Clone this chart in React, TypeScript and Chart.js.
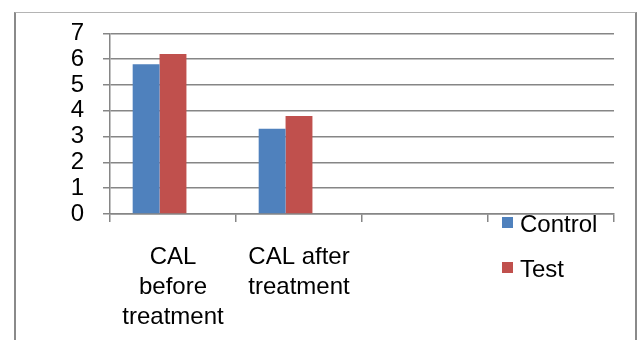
import React, { useEffect, useRef } from "react";
import { Chart, registerables } from "chart.js";

Chart.register(...registerables);

// ---- data ----
const categories: (string | string[])[] = [["CAL", "before", "treatment"], ["CAL after", "treatment"], "", ""];
const controlValues: (number | null)[] = [5.8, 3.3, null, null];
const testValues: (number | null)[] = [6.2, 3.8, null, null];
const emptySeriesValues: (number | null)[] = [null, null, null, null];
const seriesNames = ["Control", "Test"];
const seriesColors = ["#4F81BD", "#C0504D"];
const yMin = 0;
const yMax = 7;
const yStep = 1;

const FONT = '"Liberation Sans", Arial, sans-serif';
const GRID = "#868686";

const legendPlugin = {
  id: "excelLegend",
  afterDraw(chart: any) {
    const { ctx, chartArea } = chart;
    ctx.save();
    ctx.font = `24px ${FONT}`;
    ctx.textBaseline = "alphabetic";
    ctx.textAlign = "left";
    seriesNames.forEach((name, i) => {
      const bx = chartArea.right - 112;
      const by = chartArea.bottom + 3 + i * 45;
      ctx.fillStyle = seriesColors[i];
      ctx.fillRect(bx, by, 11, 11);
      ctx.fillStyle = "#000";
      ctx.fillText(name, bx + 18, by + 15);
    });
    ctx.restore();
  },
};

export default function App() {
  const ref = useRef<HTMLCanvasElement | null>(null);

  useEffect(() => {
    if (!ref.current) return;
    const chart = new Chart(ref.current, {
      type: "bar",
      data: {
        labels: categories as any,
        datasets: [
          { label: seriesNames[0], data: controlValues, backgroundColor: seriesColors[0], borderWidth: 0 },
          { label: seriesNames[1], data: testValues, backgroundColor: seriesColors[1], borderWidth: 0 },
          { label: "Series3", data: emptySeriesValues, backgroundColor: "#9BBB59", borderWidth: 0 },
        ],
      },
      options: {
        responsive: false,
        animation: false,
        devicePixelRatio: 1,
        layout: { padding: { left: 0, top: 27, right: 24, bottom: 0 } },
        datasets: { bar: { categoryPercentage: 0.64, barPercentage: 1 } },
        plugins: { legend: { display: false }, tooltip: { enabled: false }, title: { display: false } },
        scales: {
          x: {
            offset: true,
            grid: {
              display: true,
              offset: true,
              drawOnChartArea: false,
              drawTicks: true,
              tickLength: 8,
              color: GRID,
              tickColor: GRID,
              lineWidth: 1.5,
            },
            border: { display: true, color: GRID, width: 1.5 },
            ticks: {
              autoSkip: false,
              maxRotation: 0,
              minRotation: 0,
              padding: 20,
              color: "#000",
              font: { family: FONT, size: 24, lineHeight: 1.25 },
            },
            afterFit(scale: any) {
              scale.height = 126;
            },
          },
          y: {
            min: yMin,
            max: yMax,
            grid: {
              color: GRID,
              tickColor: GRID,
              drawTicks: true,
              tickLength: 7,
              lineWidth: 1.5,
            },
            border: { display: true, color: GRID, width: 1.5 },
            ticks: {
              stepSize: yStep,
              autoSkip: false,
              padding: 19,
              color: "#000",
              font: { family: FONT, size: 24 },
            },
            afterFit(scale: any) {
              scale.width = 110;
            },
          },
        },
      },
      plugins: [legendPlugin],
    });
    return () => chart.destroy();
  }, []);

  return (
    <div style={{ position: "absolute", left: 0, top: 0, width: 638, height: 340, background: "#fff", overflow: "hidden" }}>
      <div
        style={{
          position: "absolute",
          left: 14,
          top: 12,
          width: 623,
          height: 400,
          borderLeft: "2px solid #8a8a8a",
          borderTop: "1px solid #b4b4b4",
          borderRight: "2px solid #8a8a8a",
          boxSizing: "border-box",
        }}
      />
      <canvas
        ref={ref}
        width={638}
        height={340}
        style={{ position: "absolute", left: 0, top: 0, width: 638, height: 340, display: "block" }}
      />
    </div>
  );
}
